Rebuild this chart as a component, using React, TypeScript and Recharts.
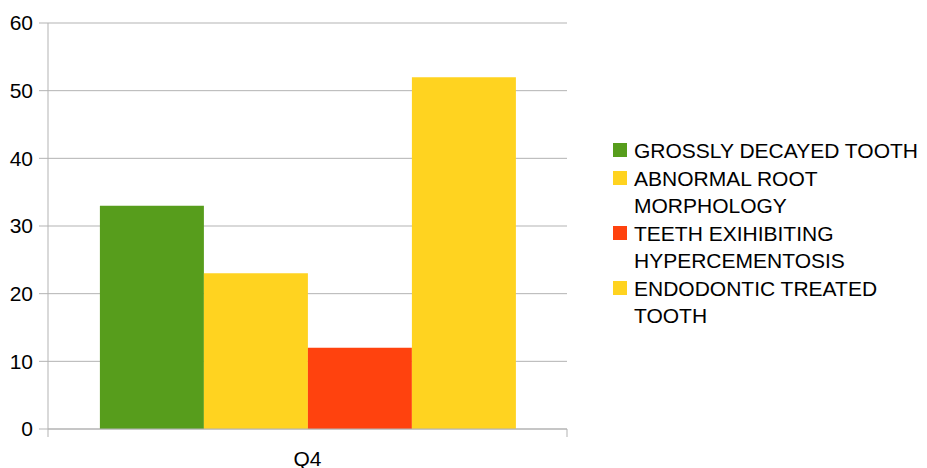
import { BarChart, Bar, XAxis, YAxis, CartesianGrid } from 'recharts';

const categories = ['Q4'];
const seriesNames = [
  'GROSSLY DECAYED TOOTH',
  'ABNORMAL ROOT MORPHOLOGY',
  'TEETH EXIHIBITING HYPERCEMENTOSIS',
  'ENDODONTIC TREATED TOOTH',
];
const seriesValues = [33, 23, 12, 52];
const seriesColors = ['#579d1c', '#ffd320', '#ff420e', '#ffd320'];
const yTicks = [0, 10, 20, 30, 40, 50, 60];

const data = categories.map((name) => {
  const row: Record<string, string | number> = { name };
  seriesValues.forEach((v, i) => {
    row[`s${i}`] = v;
  });
  return row;
});

const FONT = '"Liberation Sans", Arial, sans-serif';
const GRID = '#b3b3b3';

// category label plus tick marks at both band edges
const XTick = (props: any) => {
  const { x, y, payload, width } = props;
  const half = width / categories.length / 2;
  const top = y - 8;
  return (
    <g>
      <line x1={x - half} y1={top} x2={x - half} y2={top + 8} stroke={GRID} />
      <line x1={x + half} y1={top} x2={x + half} y2={top + 8} stroke={GRID} />
      <text x={x} y={top + 29} textAnchor="middle" dominantBaseline="central" fontSize={21} fill="#000" fontFamily={FONT}>
        {payload.value}
      </text>
    </g>
  );
};

export default function App() {
  return (
    <div style={{ position: 'absolute', left: 0, top: 0, width: 927, height: 468, background: '#fff', fontFamily: FONT }}>
      <BarChart
        width={927}
        height={468}
        data={data}
        margin={{ top: 23, right: 360, bottom: 0, left: 0 }}
        barCategoryGap="10%"
        barGap={0}
      >
        <CartesianGrid vertical={false} stroke={GRID} />
        <XAxis dataKey="name" height={39} axisLine={{ stroke: GRID }} tickLine={false} tick={<XTick />} />
        <YAxis
          width={48}
          domain={[0, 60]}
          ticks={yTicks}
          interval={0}
          tickSize={9}
          tickMargin={6}
          axisLine={{ stroke: GRID }}
          tickLine={{ stroke: GRID }}
          tick={{ fontSize: 21, fill: '#000', fontFamily: FONT }}
        />
        <YAxis yAxisId="right" orientation="right" width={0} tick={false} tickLine={false} axisLine={{ stroke: GRID }} />
        {seriesNames.map((n, i) => (
          <Bar key={n} dataKey={`s${i}`} name={n} fill={seriesColors[i]} isAnimationActive={false} />
        ))}
      </BarChart>
      <div style={{ position: 'absolute', left: 613, top: 137, width: 310 }}>
        {seriesNames.map((n, i) => (
          <div key={n} style={{ display: 'flex', alignItems: 'flex-start', marginBottom: 1 }}>
            <div style={{ width: 14, height: 14, background: seriesColors[i], marginTop: 6, marginRight: 7, flexShrink: 0 }} />
            <div style={{ width: 289, fontSize: 21, lineHeight: '27px', color: '#000' }}>{n}</div>
          </div>
        ))}
      </div>
    </div>
  );
}
